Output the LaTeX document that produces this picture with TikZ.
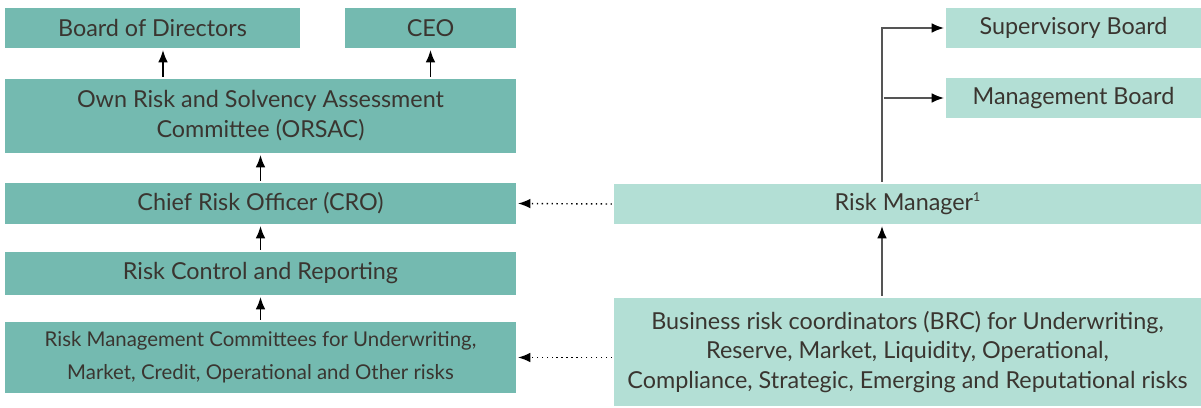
\documentclass[tikz,border=0pt]{standalone}
\usepackage{fontspec}
\setmainfont{Lato}
\usetikzlibrary{arrows.meta}
\definecolor{darkteal}{HTML}{74BAB0}
\definecolor{lightteal}{HTML}{B3DFD5}
\definecolor{ink}{HTML}{3A3530}
\definecolor{wire}{HTML}{555555}

\begin{document}
\begin{tikzpicture}
  [x=0.02cm,y=-0.02cm,
   box/.style={fill=darkteal, text=ink, inner sep=0pt, align=center,
     font=\fontsize{13.3}{17}\selectfont},
   lbox/.style={box, fill=lightteal},
   small/.style={font=\fontsize{11.6}{19}\selectfont},
   up/.style={-{Latex[length=7pt,width=5.5pt]}, line width=0.8pt, shorten <=1pt, shorten >=1pt},
   link/.style={up, dotted},
   branch/.style={up, draw=wire, -{Latex[length=7pt,width=5.5pt,color=black]}}]
  \useasboundingbox (0,0) rectangle (1201,408);

  % left column
  \node[box, minimum width=5.9cm, minimum height=0.8cm] (board) at (152.5,28) {Board of Directors};
  \node[box, minimum width=3.42cm, minimum height=0.8cm] (ceo) at (430.5,28) {CEO};
  \node[box, minimum width=10.22cm, minimum height=1.48cm] (orsac) at (260.5,116)
    {Own Risk and Solvency Assessment\\Committee (ORSAC)};
  \node[box, minimum width=10.22cm, minimum height=0.82cm] (cro) at (260.5,203.5) {Chief Risk Officer (CRO)};
  \node[box, minimum width=10.22cm, minimum height=0.86cm] (rcr) at (260.5,273.5) {Risk Control and Reporting};
  \node[box, small, minimum width=10.22cm, minimum height=1.42cm] (rmc) at (260.5,357.5)
    {Risk Management Committees for Underwriting,\\Market, Credit, Operational and Other risks};

  % right column
  \node[lbox, minimum width=5.1cm, minimum height=0.8cm] (sb) at (1073.5,28) {Supervisory Board};
  \node[lbox, minimum width=5.1cm, minimum height=0.8cm] (mb) at (1073.5,98) {Management Board};
  \node[lbox, minimum width=11.74cm, minimum height=0.8cm] (rm) at (907.5,204)
    {Risk Manager\raisebox{0.75ex}{\fontsize{7}{7}\selectfont 1}};
  \node[lbox, minimum width=11.74cm, minimum height=2.16cm] (brc) at (907.5,352)
    {Business risk coordinators (BRC) for Underwriting,\\Reserve, Market, Liquidity, Operational,\\Compliance, Strategic, Emerging and Reputational risks};
  \coordinate (spine) at (882,28);

  \draw[up] (orsac.north -| 163,0) -- (board.south -| 163,0);
  \draw[up] (orsac.north -| ceo) -- (ceo.south);
  \foreach \from/\to in {cro/orsac,rcr/cro,rmc/rcr}
    \draw[up] (\from) -- (\to);

  \draw[link] (rm.west) -- (cro.east);
  \draw[link] (rmc.east -| brc.west) -- (rmc.east);

  \draw[branch] (brc.north -| spine) -- (rm.south -| spine);
  \draw[branch] (rm.north -| spine) -- (spine) -- (sb.west);
  \draw[branch] (spine |- mb) -- (mb.west);
\end{tikzpicture}
\end{document}
